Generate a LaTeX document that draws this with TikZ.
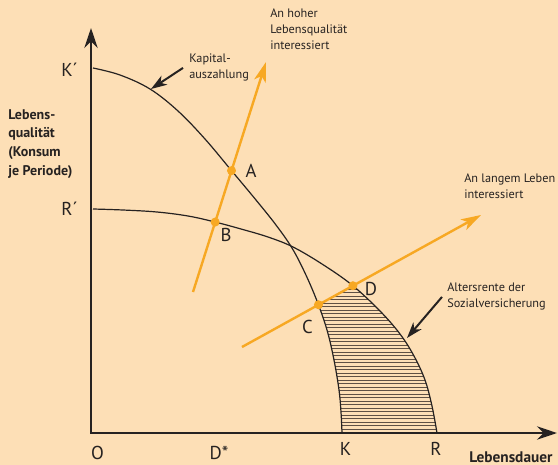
\documentclass[tikz,border=0pt]{standalone}
\usepackage{fontspec}
\setmainfont{PT Sans}
\usetikzlibrary{arrows.meta, positioning, intersections}
\definecolor{mybg}{RGB}{253,223,182}
\definecolor{myo}{RGB}{247,168,35}
\definecolor{myk}{RGB}{38,34,33}
\definecolor{myh}{RGB}{95,80,68}
\newcommand{\kcurve}{plot[smooth, tension=0.6] coordinates {(93,68) (120,75) (150,89) (178,111) (205,139) (231,170) (256,200) (276,225) (292,248) (305,273) (317,301) (327,330) (334,360) (339,390) (341,412) (342,433)}}
\newcommand{\rcurve}{plot[smooth, tension=0.6] coordinates {(93,209) (123,210) (157,212) (188,216) (215,222) (241,229) (268,237) (293,247) (322,264) (352,285) (380,311) (400,334) (414,356) (425,380) (432,406) (437,433)}}

\begin{document}
\begin{tikzpicture}[x=0.75pt, y=-0.75pt,
    curve/.style={draw=myk, line width=0.9pt},
    oline/.style={draw=myo, line width=1.8pt, -{Stealth[length=15pt,width=9pt,inset=4pt]}},
    pointer/.style={draw=myk, line width=1.5pt, -{Stealth[length=12pt,width=8pt,inset=3.5pt]}},
    note/.style={text=myk, inner sep=0pt, align=left, font=\fontsize{9.2}{12}\selectfont},
    axlbl/.style={text=myk, inner sep=0pt, align=left, font=\fontsize{10.5}{14}\selectfont\bfseries},
    biglbl/.style={text=myk, inner sep=0pt, font=\fontsize{14}{16}\selectfont},
    dot/.style={circle, fill=myo, inner sep=0pt, minimum size=6.8pt}]
    \useasboundingbox (0,0) rectangle (558,465);
    \fill[mybg] (0,0) rectangle (558,465);

    % hatched area: between the two curves, below the long-life line
    \coordinate (o2s) at (242,347);
    \coordinate (o2e) at (481,215);
    \begin{scope}
        \clip \rcurve -- (93,433) -- cycle;
        \clip \kcurve -- (342,470) -- (560,470) -- (560,40) -- (93,40) -- cycle;
        \clip (o2s) -- (o2e) -- (560,215) -- (560,470) -- (242,470) -- cycle;
        \foreach \y in {289,292.5,...,433}
            \draw[myh, line width=0.6pt] (300,\y) -- (450,\y);
    \end{scope}

    \draw[curve, name path=kc] \kcurve;
    \draw[curve, name path=rc] \rcurve;

    % axes
    \coordinate (orig) at (91,433);
    \coordinate (ytip) at (91,28);
    \coordinate (xtip) at (557,433);
    \draw[myk, line width=2pt, line join=miter,
          {Stealth[length=15pt,width=10pt,inset=5pt]}-{Stealth[length=15pt,width=10pt,inset=5pt]}]
          (ytip) -- (orig) -- (xtip);

    % preference lines
    \coordinate (o1s) at (193,292);
    \coordinate (o1e) at (266,62);
    \draw[oline, name path=o1] (o1s) -- (o1e);
    \draw[oline, name path=o2] (o2s) -- (o2e);

    \path[name intersections={of=kc and o1, by=ptA}];
    \path[name intersections={of=rc and o1, by=ptB}];
    \path[name intersections={of=kc and o2, by=ptC}];
    \path[name intersections={of=rc and o2, by=ptD}];
    \foreach \p in {A,B,C,D}
        \node[dot] (dot\p) at (pt\p) {};

    \foreach \n/\x/\y/\t in {A/251/177/A, B/226/241/B, C/307.5/333/C, D/371/295/D,
                             kp/69.5/76/K´, rp/69.5/215/R´, o/97.5/459/O, ds/219/459/D*, k/345.5/455/K, r/436/455/R}
        \node[biglbl, anchor=base] (lbl\n) at (\x,\y) {\t};

    \node[note, anchor=north west] (kap) at (189,54) {Kapital-\\auszahlung};
    \node[note, anchor=north west] (hoch) at (270,9) {An hoher\\Lebensqualität\\interessiert};
    \node[note, anchor=north west] (lang) at (464,174) {An langem Leben\\interessiert};
    \node[note, anchor=north west] (alt) at (447,283) {Altersrente der\\Sozialversicherung};
    \node[axlbl, anchor=north west] (ylbl) at (8,109) {Lebens-\\qualität\\(Konsum\\je Periode)};
    \node[axlbl, anchor=base west, font=\fontsize{11.5}{14}\selectfont\bfseries] (xlbl) at (469,462) {Lebensdauer};

    \coordinate (kapTo) at (151,89);
    \coordinate (altTo) at (407,338);
    \draw[pointer] ([xshift=-4.5pt]kap.west) -- (kapTo);
    \draw[pointer] ([xshift=-3.75pt]alt.west) -- (altTo);
\end{tikzpicture}
\end{document}
